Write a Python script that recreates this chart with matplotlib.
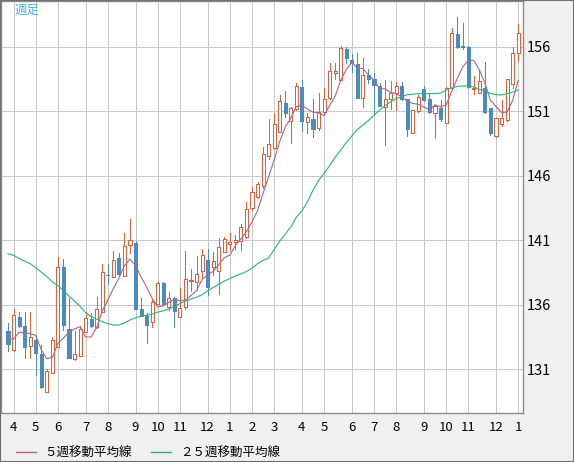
import numpy as np
import pandas as pd
import matplotlib
matplotlib.use("Agg")
import matplotlib.pyplot as plt
from matplotlib.lines import Line2D
from matplotlib.patches import Rectangle

plt.rcParams['font.family'] = ['Noto Sans CJK JP', 'DejaVu Sans']

# weekly candles
opens = [133.98, 132.49, 135.04, 134.35, 132.85, 133.29, 132.2, 129.28, 130.75, 132.77,
         138.92, 134.14, 131.79, 132.05, 133.93, 134.92, 134.32, 135.48, 138.36, 138.2,
         139.65, 138.27, 140.65, 140.78, 135.69, 135.15, 134.71, 136.08, 137.73, 135.87,
         136.57, 135.04, 135.87, 137.86, 137.81, 138.66, 139.49, 138.92, 138.66, 140.13,
         140.7, 140.86, 140.99, 141.24, 143.49, 144.4, 145.22, 147.58, 148.2, 149.44,
         151.63, 150.26, 151.17, 152.87, 150.21, 150.42, 149.75, 150.99, 152.02, 153.96,
         153.44, 155.82, 154.99, 154.68, 152.02, 153.83, 153.52, 152.95, 151.37, 151.94,
         152.41, 152.98, 151.97, 149.31, 151.06, 152.72, 151.94, 150.91, 151.3, 150.13,
         152.8, 157.01, 156.05, 156.03, 152.72, 152.46, 152.8, 151.24, 149.1, 150.03,
         150.34, 153.13, 155.51]
highs = [134.58, 135.69, 135.48, 135.48, 135.48, 133.6, 132.9, 131.0, 133.55, 139.75,
         139.54, 136.52, 133.98, 134.37, 135.48, 135.35, 136.65, 139.2, 139.2, 140.17,
         140.0, 141.6, 142.67, 140.99, 136.52, 135.4, 136.39, 137.8, 137.8, 137.03,
         136.65, 137.34, 140.2, 138.77, 139.8, 140.31, 140.34, 140.13, 141.17, 141.24,
         141.55, 141.43, 142.28, 143.96, 145.17, 145.56, 148.22, 150.39, 150.86, 152.28,
         152.59, 151.32, 153.24, 153.44, 150.86, 151.94, 152.46, 152.79, 154.73, 154.78,
         156.08, 155.97, 155.46, 155.51, 155.12, 154.27, 154.0, 153.18, 153.44, 153.4,
         153.31, 153.31, 151.97, 151.12, 152.28, 153.0, 152.41, 151.5, 151.89, 152.87,
         157.45, 158.3, 157.83, 156.1, 153.75, 154.22, 154.86, 151.3, 150.47, 151.89,
         153.49, 155.97, 157.78]
lows = [132.46, 132.46, 134.32, 131.87, 131.87, 130.57, 129.6, 129.28, 130.75, 132.77,
        134.06, 131.87, 131.74, 132.05, 133.93, 134.32, 134.25, 135.48, 137.63, 138.2,
        138.33, 138.27, 140.06, 135.69, 135.15, 133.03, 134.32, 136.08, 136.08, 135.61,
        134.32, 135.04, 135.66, 137.11, 137.16, 138.07, 136.78, 138.33, 136.85, 140.13,
        140.26, 140.31, 140.26, 141.2, 143.36, 144.27, 145.1, 147.32, 148.09, 149.44,
        150.6, 148.53, 151.1, 149.51, 149.36, 149.05, 149.57, 150.86, 152.0, 153.49,
        153.44, 154.73, 154.09, 152.02, 151.32, 153.18, 150.86, 151.43, 148.4, 151.2,
        151.12, 151.89, 149.1, 149.31, 150.99, 151.8, 150.86, 148.92, 150.3, 150.13,
        152.8, 155.9, 155.82, 152.8, 152.36, 152.41, 150.86, 149.18, 149.05, 149.88,
        150.29, 152.8, 154.91]
closes = [133.0, 135.2, 134.4, 132.77, 133.54, 132.3, 129.67, 130.88, 133.29, 138.92,
          134.45, 131.87, 132.2, 134.14, 134.97, 134.4, 135.66, 138.53, 138.3, 139.49,
          138.4, 140.57, 141.04, 135.69, 135.15, 134.45, 136.26, 137.73, 136.08, 136.52,
          135.56, 135.74, 137.99, 137.91, 138.4, 139.88, 137.42, 139.41, 140.52, 141.09,
          140.91, 141.04, 142.05, 143.43, 144.73, 145.35, 147.71, 148.48, 150.03, 151.81,
          150.91, 151.24, 152.98, 150.29, 150.55, 149.67, 150.99, 151.94, 154.14, 154.14,
          155.9, 155.12, 154.73, 152.02, 153.83, 153.52, 153.03, 151.45, 151.94, 152.46,
          152.98, 151.94, 149.62, 151.12, 152.15, 151.89, 150.99, 151.43, 150.39, 152.8,
          157.06, 156.03, 156.0, 152.87, 152.85, 153.36, 150.99, 149.31, 150.47, 150.47,
          153.49, 155.56, 157.06]

# first four 5-week average values (earlier weeks are off the chart)
ma5_head = [133.4, 133.35, 133.9, 133.85]

# 25-week average
ma25 = [139.97, 139.85, 139.6, 139.4, 139.2, 138.9, 138.55, 138.2, 137.8, 137.5,
        137.1, 136.7, 136.3, 135.9, 135.4, 135.1, 134.9, 134.7, 134.55, 134.45,
        134.45, 134.6, 134.84, 135.0, 135.15, 135.2, 135.3, 135.45, 135.55, 135.7,
        135.9, 136.1, 136.3, 136.46, 136.6, 136.8, 137.1, 137.35, 137.6, 137.85,
        138.05, 138.25, 138.4, 138.6, 138.85, 139.2, 139.45, 139.65, 140.3, 140.95,
        141.5, 142.05, 142.8, 143.3, 144.0, 144.9, 145.65, 146.2, 146.8, 147.45,
        148.0, 148.6, 149.1, 149.6, 149.95, 150.3, 150.7, 151.1, 151.45, 151.75,
        152.0, 152.15, 152.3, 152.34, 152.37, 152.38, 152.38, 152.4, 152.42, 152.65,
        152.82, 152.94, 152.98, 152.98, 152.9, 152.73, 152.58, 152.4, 152.3, 152.28,
        152.38, 152.5, 152.67]

month_pos = [1, 5, 9, 14, 18, 23, 27, 31, 36, 40, 44, 48, 53, 57, 62, 66, 70, 75, 79, 83, 88, 92]
month_labels = ['4', '5', '6', '7', '8', '9', '10', '11', '12', '1', '2',
                '3', '4', '5', '6', '7', '8', '9', '10', '11', '12', '1']
price_ticks = [131, 136, 141, 146, 151, 156]

red = '#d8643e'
blue = '#4a8cc2'
ma5_col = '#b4608c'
ma25_col = '#2cb07a'
px = 0.72  # one pixel in points at 100 dpi

W, H = 574, 462
fig = plt.figure(figsize=(W / 100, H / 100), dpi=100, facecolor='#f0f0f0')
ax = fig.add_axes([1 / W, 49.5 / H, 522 / W, 411.5 / H])
ax.set_facecolor('white')

o = np.array(opens)
c = np.array(closes)
hi = np.array(highs)
lo = np.array(lows)
idx = np.arange(len(c))
up = c >= o
bottom = np.minimum(o, c)
height = np.maximum(np.abs(c - o), 0.03)

ax.vlines(idx[up], lo[up], hi[up], color=red, lw=px, zorder=3, antialiased=False)
ax.vlines(idx[~up], lo[~up], hi[~up], color=blue, lw=px, zorder=3, antialiased=False)
ax.bar(idx[up], height[up], bottom=bottom[up], width=0.56, facecolor='white',
       edgecolor=red, lw=px, zorder=4, antialiased=False)
ax.bar(idx[~up], height[~up], bottom=bottom[~up], width=0.56, facecolor=blue,
       edgecolor=blue, lw=px, zorder=4, antialiased=False)

ma5 = pd.Series(closes).rolling(5).mean().to_numpy()
ma5[:4] = ma5_head
ax.plot(idx, ma5, color=ma5_col, lw=0.8, zorder=5)
ax.plot(idx, ma25, color=ma25_col, lw=0.8, zorder=5)

ax.set_xlim(-1.262, 92.87)
ax.set_ylim(127.666, 159.565)
ax.set_xticks(month_pos)
ax.set_xticklabels(month_labels)
ax.set_yticks(price_ticks)
ax.yaxis.tick_right()
ax.tick_params(axis='x', length=0, pad=6, labelsize=9.5, colors='black')
ax.tick_params(axis='y', length=0, pad=3, labelsize=10.5, colors='black')
ax.grid(color='#c8c8c8', lw=px, antialiased=False)
ax.set_axisbelow(True)
for s in ax.spines.values():
    s.set_color('#8c8c8c')
    s.set_linewidth(1)

fig.text(15 / W, 1 - 10.5 / H, '週足', color='#3cb4e6', fontsize=9, va='center')

handles = [Line2D([], [], color=ma5_col, lw=1), Line2D([], [], color=ma25_col, lw=1)]
fig.legend(handles, ['５週移動平均線', '２５週移動平均線'], loc='center left',
           bbox_to_anchor=(16 / W, 9 / H), frameon=False, ncol=2, fontsize=9,
           handlelength=1.6, handletextpad=0.7, columnspacing=1.5,
           borderpad=0, borderaxespad=0)

fig.patches.append(Rectangle((0, 0), 1, 1, transform=fig.transFigure, fill=False,
                             edgecolor='#6e6e6e', lw=1.5))

fig.savefig('out.png', dpi=100, facecolor=fig.get_facecolor())
